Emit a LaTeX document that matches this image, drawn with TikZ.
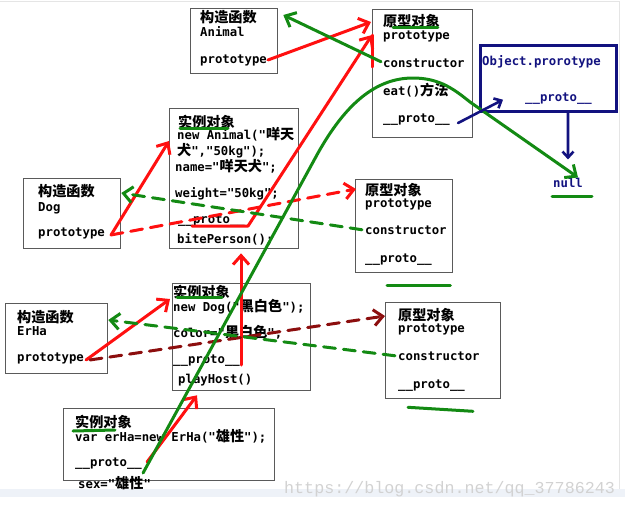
\documentclass[tikz,border=0pt]{standalone}
\usepackage{fontspec}
\usetikzlibrary{arrows.meta,calc}
\newfontfamily\monof{DejaVu Sans Mono}
\newfontfamily\cjk[Scale=1.15]{Noto Sans CJK SC}
\newfontfamily\markf{Liberation Mono}
\newcommand{\zh}[1]{{\cjk #1}}
\definecolor{pred}{HTML}{FF1010}
\definecolor{pgreen}{HTML}{138A13}
\definecolor{pmaroon}{HTML}{8C0E0E}
\definecolor{pnavy}{HTML}{12127F}
\definecolor{pbox}{HTML}{5A5A5A}
\definecolor{pband}{HTML}{EEF2F8}
\definecolor{pmark}{HTML}{D2D2D2}
\tikzset{
  box/.style={draw=pbox, line width=1.3pt, anchor=north west, inner sep=0pt},
  txt/.style={anchor=base west, inner sep=0pt},
  redln/.style={pred, line width=3pt, line cap=round, line join=round},
  greenln/.style={pgreen, line width=3pt, line cap=round, line join=round},
  maroonln/.style={pmaroon, line width=3pt, line cap=round},
  navyln/.style={pnavy, line width=2.6pt, line cap=round},
  dashln/.style={dash pattern=on 12pt off 8pt},
  head/.style={-{Straight Barb[length=9pt,width=16pt]}},
  smallhead/.style={-{Straight Barb[length=6pt,width=11pt]}}
}
\begin{document}
\begin{tikzpicture}[x=1pt,y=-1pt,font=\fontsize{12.3}{14}\monof\bfseries]
\useasboundingbox (0,0) rectangle (625,507);
\draw[gray!20, line width=1pt] (0,1.5) -- (619,1.5) -- (619,489);
\fill[pband] (0,489) rectangle (625,497);
\node[txt, font=\fontsize{16.7}{18}\markf, text=pmark] (mark) at (284,493) {https://blog.csdn.net/qq\_37786243};

\node[box, minimum width=87pt, minimum height=65pt] (cA) at (190,8) {};
\node[txt] (cAt) at (200,22) {\zh{构造函数}};
\node[txt] (cAn) at (200,36) {Animal};
\node[txt] (cAp) at (200,63) {prototype};

\node[box, minimum width=100pt, minimum height=128pt] (pA) at (372,9) {};
\node[txt] (pAt) at (383,26) {\zh{原型对象}};
\node[txt] (pAp) at (383,39) {prototype};
\node[txt] (pAc) at (383,67) {constructor};
\node[txt] (pAe) at (383,95) {eat()\zh{方法}};
\node[txt] (pAu) at (383,122) {\_\_proto\_\_};

\node[box, draw=pnavy, line width=2.7pt, minimum width=136pt, minimum height=66pt] (obj) at (479,44) {};
\node[txt, text=pnavy] (objt) at (482,65) {Object.prorotype};
\node[txt, text=pnavy] (obju) at (525,101) {\_\_proto\_\_};
\node[txt, text=pnavy] (nul) at (553,187) {null};

\node[box, minimum width=129pt, minimum height=140pt] (iA) at (169,108) {};
\node[txt] (iAt) at (178,127) {\zh{实例对象}};
\node[txt] (iA1) at (177,139) {new Animal("\zh{咩天}};
\node[txt] (iA2) at (177,155) {\zh{犬}","50kg");};
\node[txt] (iA3) at (175,171) {name="\zh{咩天犬}";};
\node[txt] (iA4) at (175,197) {weight="50kg";};
\node[txt] (iAu) at (178,223) {\_\_proto\_\_};
\node[txt] (iA5) at (177,243) {bitePerson();};

\node[box, minimum width=97pt, minimum height=70pt] (cD) at (23,178) {};
\node[txt] (cDt) at (38,196) {\zh{构造函数}};
\node[txt] (cDn) at (38,211) {Dog};
\node[txt] (cDp) at (38,236) {prototype};

\node[box, minimum width=97pt, minimum height=93pt] (pD) at (355,179) {};
\node[txt] (pDt) at (365,195) {\zh{原型对象}};
\node[txt] (pDp) at (365,207) {prototype};
\node[txt] (pDc) at (365,234) {constructor};
\node[txt] (pDu) at (365,262) {\_\_proto\_\_};

\node[box, minimum width=102pt, minimum height=70pt] (cE) at (5,303) {};
\node[txt] (cEt) at (17,322) {\zh{构造函数}};
\node[txt] (cEn) at (17,335) {ErHa};
\node[txt] (cEp) at (17,361) {prototype};

\node[box, minimum width=138pt, minimum height=107pt] (iD) at (172,283) {};
\node[txt] (iDt) at (173,297) {\zh{实例对象}};
\node[txt] (iD1) at (173,311) {new Dog("\zh{黑白色}");};
\node[txt] (iD2) at (173,337) {color="\zh{黑白色}";};
\node[txt] (iDu) at (173,363) {\_\_proto\_\_};
\node[txt] (iD3) at (178,383) {playHost()};

\node[box, minimum width=115pt, minimum height=96pt] (pE) at (385,302) {};
\node[txt] (pEt) at (398,320) {\zh{原型对象}};
\node[txt] (pEp) at (398,332) {prototype};
\node[txt] (pEc) at (398,360) {constructor};
\node[txt] (pEu) at (398,388) {\_\_proto\_\_};

\node[box, minimum width=211pt, minimum height=72pt] (iE) at (63,408) {};
\node[txt] (iEt) at (75,427) {\zh{实例对象}};
\node[txt] (iE1) at (75,441) {var erHa=new ErHa("\zh{雄性}");};
\node[txt] (iEu) at (75,466) {\_\_proto\_\_};
\node[txt] (iE2) at (78,488) {sex="\zh{雄性}"};

\draw[greenln] ($(pAt.base west)+(10,1)$) -- ($(pAt.base east)+(-2,1)$);
\draw[greenln] ($(iAt.base west)+(2,1)$) -- ($(iAt.base west)+(50,1)$);
\draw[greenln] ($(iDt.base west)+(4,0)$) -- ($(iDt.base west)+(49,0)$);
\draw[greenln] ($(iEt.base west)+(-2,4)$) -- ($(iEt.base west)+(40,3)$);
\draw[greenln] ($(pD.south west)+(32,12)$) -- ($(pD.south east)+(-3,12)$);
\draw[greenln] ($(pE.south west)+(23,8)$) -- ($(pE.south west)+(88,12)$);
\draw[greenln] ($(nul.base west)+(-1,9)$) -- ($(nul.base west)+(39,9)$);

\draw[redln,head] ($(cAp.east)+(1,0)$) -- ($(pA.north west)+(-1,13)$);
\draw[redln] ($(pA.north west)+(0,26)$) -- ($(pA.north west)+(0,58)$);
\draw[redln,head] ($(iAu.base west)+(14,3)$) -- ($(iAu.base east)+(3,3)$) -- ($(pA.north west)+(0,26)$);
\draw[redln,head] ($(cDp.east)+(6,2)$) -- ($(iA.north west)+(0,33)$);
\draw[redln,dashln,head] ($(cDp.east)+(6,2)$) -- ($(pD.north west)+(1,10)$);
\draw[redln,head] ($(iDu.base east)+(1,2)$) -- ($(iA.south -| iDu.base east)+(1,4)$);
\draw[redln,head] ($(cEp.east)+(2,2)$) -- ($(iD.north west)+(-2,16)$);
\draw[maroonln,dashln,head] ($(cEp.east)+(6,2)$) -- ($(pE.north west)+(0,14)$);
\draw[redln,head] ($(iEu.base east)+(5,-4)$) -- ($(iD.south west)+(25,4)$);

\draw[greenln,head] ($(pAc.west)+(-2,-1)$) -- ($(cA.north east)+(5,7)$);
\draw[greenln,head] ($(iEu.base east)+(1,7)$) -- (318,153) .. controls (345,105) and (375,78) .. (413,78) .. controls (440,78) and (455,90) .. (470,102) -- ($(nul.north)+(10,0)$);
\draw[greenln,dashln,head] ($(pDc.west)+(-3,0)$) -- ($(cD.north east)+(0,15)$);
\draw[greenln,dashln,head] ($(pEc.west)+(-3,0)$) -- ($(cE.north east)+(0,17)$);

\draw[navyln,smallhead] ($(pAu.base east)+(8,1)$) -- ($(obj.south west)+(24,-13)$);
\draw[navyln,smallhead] ($(obj.south west)+(89,0)$) -- ($(nul.north)+(0,-18)$);
\end{tikzpicture}
\end{document}
